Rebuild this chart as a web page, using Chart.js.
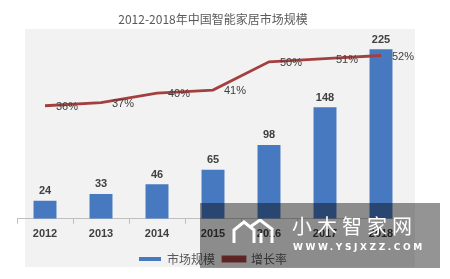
<!DOCTYPE html>
<html>
<head>
<meta charset="utf-8">
<script src="https://cdn.jsdelivr.net/npm/chart.js@4/dist/chart.umd.min.js"></script>
<style>
  html,body{margin:0;padding:0;background:#fff;}
  #wrap{position:relative;width:450px;height:279px;overflow:hidden;}
  #bg{position:absolute;left:25px;top:29px;width:390px;height:238px;background:#f2f2f2;}
  #cv{position:absolute;left:0;top:0;width:450px;height:279px;}
  #wm{position:absolute;left:200px;top:203px;width:240px;height:65px;background:rgba(0,0,0,0.42);}
  #wm .t1{position:absolute;left:92px;top:12px;color:#fff;font:20px "Noto Sans CJK SC";letter-spacing:5px;line-height:22px;white-space:nowrap;}
  #wm .t2{position:absolute;left:93px;top:39px;color:#fff;font:bold 9px "DejaVu Sans";letter-spacing:2.6px;white-space:nowrap;}
  #wm svg{position:absolute;left:32px;top:16px;}
</style>
</head>
<body>
<div id="wrap">
  <div id="bg"></div>
  <div id="cv"><canvas id="c"></canvas></div>
  <div id="wm">
    <svg width="52" height="26" viewBox="0 0 52 26">
      <polyline points="2,24 2,11 12,3 22,11 22,24" fill="none" stroke="#fff" stroke-width="3"/>
      <polyline points="18,8 28,1 40,10 40,24" fill="none" stroke="#fff" stroke-width="3"/>
      <line x1="29" y1="14" x2="29" y2="24" stroke="#fff" stroke-width="3"/>
    </svg>
    <div class="t1">小木智家网</div>
    <div class="t2">WWW.YSJXZZ.COM</div>
  </div>
</div>
<script>
const years = ['2012','2013','2014','2015','2016','2017','2018'];
const marketSize = [24, 33, 46, 65, 98, 148, 225];
const growthRate = [36, 37, 40, 41, 50, 51, 52];
const growthLabels = ['36%','37%','40%','41%','50%','51%','52%'];
const titleText = '2012-2018年中国智能家居市场规模';
const seriesNames = ['市场规模','增长率'];

const valuePlugin = {
  id: 'valueLabels',
  afterDatasetsDraw(chart) {
    const ctx = chart.ctx;
    ctx.save();
    ctx.fillStyle = '#404040';
    chart.data.datasets.forEach((ds, i) => {
      const meta = chart.getDatasetMeta(i);
      meta.data.forEach((el, j) => {
        if (ds.type === 'line') {
          ctx.font = '11px "Liberation Sans"';
          ctx.textAlign = 'left';
          ctx.textBaseline = 'middle';
          ctx.fillText(growthLabels[j], el.x + 11, el.y + 1);
        } else {
          ctx.font = 'bold 11px "Liberation Sans"';
          ctx.textAlign = 'center';
          ctx.textBaseline = 'bottom';
          ctx.fillText(String(ds.data[j]), el.x, el.y - 4);
        }
      });
    });
    ctx.restore();
  }
};

new Chart(document.getElementById('c'), {
  data: {
    labels: years,
    datasets: [
      {
        type: 'bar',
        label: seriesNames[0],
        data: marketSize,
        backgroundColor: '#4779c1',
        barPercentage: 0.41,
        categoryPercentage: 1,
        yAxisID: 'y',
        order: 2
      },
      {
        type: 'line',
        label: seriesNames[1],
        data: growthRate,
        borderColor: '#a3403f',
        backgroundColor: '#8e3b3a',
        borderWidth: 2.8,
        pointRadius: 0,
        tension: 0,
        yAxisID: 'y1',
        order: 1
      }
    ]
  },
  options: {
    responsive: true,
    maintainAspectRatio: false,
    animation: false,
    layout: { padding: { left: 17, right: 41, top: 0, bottom: 4 } },
    plugins: {
      title: {
        display: true,
        text: titleText,
        color: '#595959',
        font: { family: '"Noto Sans CJK SC"', size: 12, weight: 'normal' },
        padding: { top: 12, bottom: 4 }
      },
      legend: {
        position: 'bottom',
        labels: {
          color: '#595959',
          font: { family: '"Noto Sans CJK SC"', size: 12 },
          boxWidth: 22,
          boxHeight: 4,
          padding: 8,
          sort: (a, b) => a.datasetIndex - b.datasetIndex
        }
      },
      tooltip: { enabled: false }
    },
    scales: {
      x: {
        offset: true,
        grid: { display: true, drawOnChartArea: false, drawTicks: true, tickLength: 5, offset: true, color: '#bfbfbf' },
        border: { display: true, color: '#bfbfbf' },
        ticks: { color: '#404040', font: { family: '"Liberation Sans"', size: 11, weight: 'bold' }, padding: 4 }
      },
      y: { display: false, min: 0, max: 250 },
      y1: { display: false, min: 0, max: 60, position: 'right' }
    }
  },
  plugins: [valuePlugin]
});
</script>
</body>
</html>
